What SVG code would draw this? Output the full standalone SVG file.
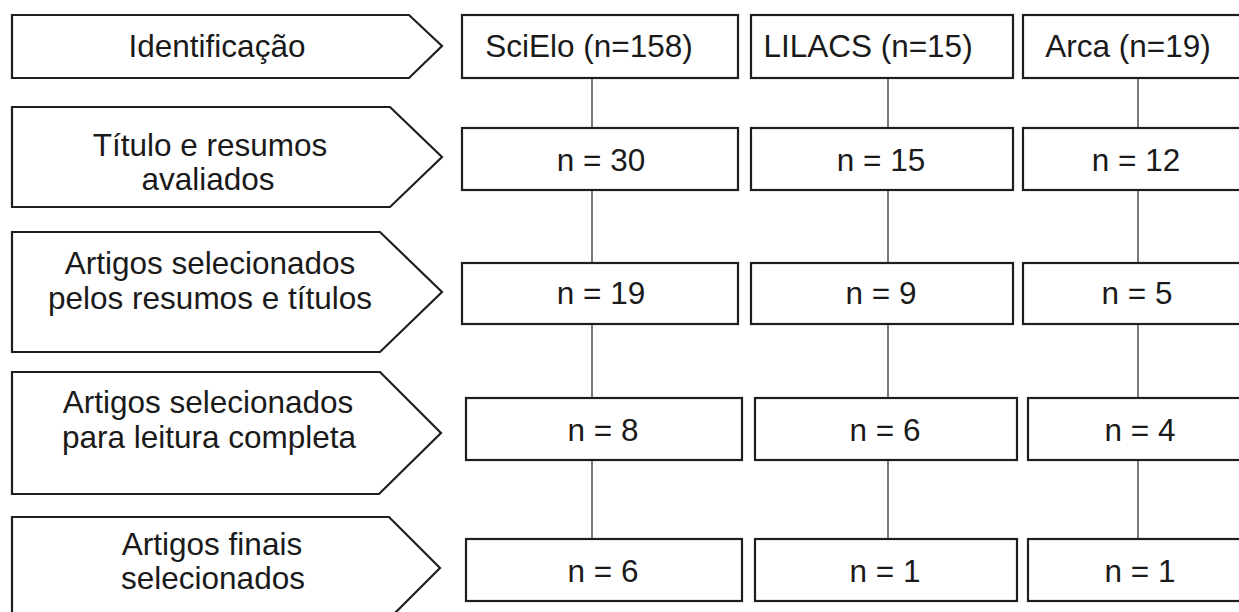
<svg xmlns="http://www.w3.org/2000/svg" width="1239" height="612" viewBox="0 0 1239 612">
<style>
.stage{fill:#fff;stroke:#1e1e1e;stroke-width:2.2;stroke-linejoin:miter}
.box{fill:#fff;stroke:#1e1e1e;stroke-width:2.2}
.t{font-family:"Liberation Sans",Arial,sans-serif;font-size:31.5px;fill:#1a1a1a;text-anchor:middle}
.c{stroke:#333;stroke-width:1.3;fill:none}
</style>
<rect width="1239" height="612" fill="#fff"/>
<g id="connectors">
<path class="c" d="M592 78V128M592 190V263M592 324V398M592 460V539"/>
<path class="c" d="M888 78V128M888 190V263M888 324V398M888 460V539"/>
<path class="c" d="M1138 78V128M1138 190V263M1138 324V398M1138 460V539"/>
</g>
<g id="stage-identificacao">
<polygon class="stage" points="12,15 409,15 442,46 409,78 12,78"/>
<text class="t" x="217" y="57">Identificação</text>
</g>
<g id="stage-titulo">
<polygon class="stage" points="12,107 390,107 442,157 390,207 12,207"/>
<text class="t" x="210" y="156">Título e resumos</text>
<text class="t" x="208" y="190">avaliados</text>
</g>
<g id="stage-selecionados">
<polygon class="stage" points="12,232 380,232 442,292 380,352 12,352"/>
<text class="t" x="210" y="274">Artigos selecionados</text>
<text class="t" x="210" y="309">pelos resumos e títulos</text>
</g>
<g id="stage-leitura">
<polygon class="stage" points="12,372 380,372 441,433 379,494 12,494"/>
<text class="t" x="208" y="413">Artigos selecionados</text>
<text class="t" x="209" y="448">para leitura completa</text>
</g>
<g id="stage-finais">
<polygon class="stage" points="12,517 389,517 440,568 389,619 12,619"/>
<text class="t" x="212" y="555">Artigos finais</text>
<text class="t" x="213" y="589">selecionados</text>
</g>
<g id="scielo-1"><rect class="box" x="462" y="15" width="276" height="63"/><text class="t" x="589" y="57">SciElo (n=158)</text></g>
<g id="lilacs-1"><rect class="box" x="751" y="15" width="262" height="63"/><text class="t" x="868" y="57">LILACS (n=15)</text></g>
<g id="arca-1"><rect class="box" x="1023" y="15" width="224" height="63"/><text class="t" x="1128" y="57">Arca (n=19)</text></g>
<g id="scielo-2"><rect class="box" x="462" y="128" width="276" height="62"/><text class="t" x="601" y="171">n = 30</text></g>
<g id="lilacs-2"><rect class="box" x="751" y="128" width="262" height="62"/><text class="t" x="881" y="171">n = 15</text></g>
<g id="arca-2"><rect class="box" x="1023" y="128" width="224" height="62"/><text class="t" x="1136" y="171">n = 12</text></g>
<g id="scielo-3"><rect class="box" x="462" y="263" width="276" height="61"/><text class="t" x="601" y="304">n = 19</text></g>
<g id="lilacs-3"><rect class="box" x="751" y="263" width="262" height="61"/><text class="t" x="881" y="304">n = 9</text></g>
<g id="arca-3"><rect class="box" x="1023" y="263" width="224" height="61"/><text class="t" x="1137" y="304">n = 5</text></g>
<g id="scielo-4"><rect class="box" x="466" y="398" width="276" height="62"/><text class="t" x="603" y="441">n = 8</text></g>
<g id="lilacs-4"><rect class="box" x="755" y="398" width="262" height="62"/><text class="t" x="885" y="441">n = 6</text></g>
<g id="arca-4"><rect class="box" x="1028" y="398" width="219" height="62"/><text class="t" x="1140" y="441">n = 4</text></g>
<g id="scielo-5"><rect class="box" x="466" y="539" width="276" height="62"/><text class="t" x="603" y="582">n = 6</text></g>
<g id="lilacs-5"><rect class="box" x="755" y="539" width="262" height="62"/><text class="t" x="885" y="582">n = 1</text></g>
<g id="arca-5"><rect class="box" x="1028" y="539" width="219" height="62"/><text class="t" x="1140" y="582">n = 1</text></g>
</svg>
